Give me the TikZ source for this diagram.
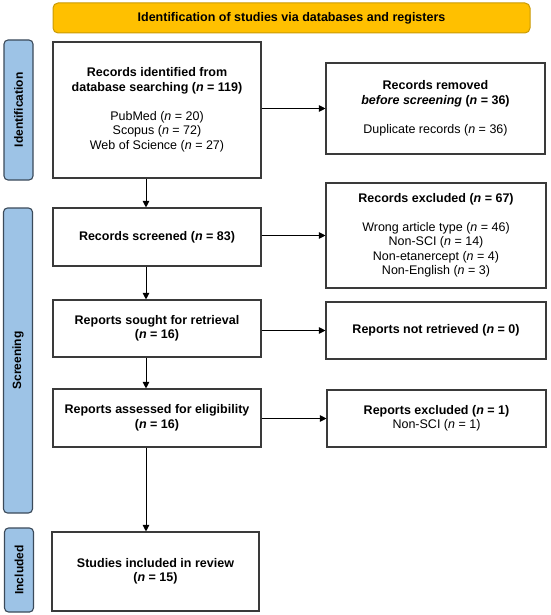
\documentclass[tikz,border=0pt]{standalone}
\usepackage{fontspec}
\setmainfont{Liberation Sans}
\usepackage{tikz}
\usetikzlibrary{arrows.meta, positioning, calc}

\definecolor{bannerfill}{HTML}{FFC000}
\definecolor{bannerline}{HTML}{C99A06}
\definecolor{sidefill}{HTML}{9DC3E6}
\definecolor{sideline}{HTML}{3B4A5A}
\definecolor{boxline}{HTML}{3A3A3A}

\begin{document}
\begin{tikzpicture}[x=1pt, y=-1pt, >={Triangle[length=6.5pt, width=6.5pt]},
        every node/.style={font=\fontsize{12.5}{14.5}\selectfont, align=center, inner sep=0pt},
        box/.style={draw=boxline, line width=1.1pt, fill=white},
        side/.style={draw=sideline, line width=1.1pt, fill=sidefill, rounded corners=4pt, rotate=90,
            minimum height=29pt, font=\fontsize{12}{14}\selectfont\bfseries},
        arr/.style={->, line width=0.9pt}]
        \useasboundingbox (0,0) rectangle (550,615);
        % Banner
        \node[draw=bannerline, fill=bannerfill, rounded corners=5pt, line width=1pt,
            minimum width=477pt, minimum height=30pt, font=\fontsize{12.5}{14.5}\selectfont\bfseries]
            (banner) at (291.5,18) {Identification of studies via databases and registers};
        % Side labels
        \node[side, minimum width=140pt] (sideid) at (18.5,110) {Identification};
        \node[side, minimum width=305pt] (sidescr) at (18,360.5) {Screening};
        \node[side, minimum width=84pt] (sideinc) at (19,570) {Included};
        % Left column
        \node[box, minimum width=208pt, minimum height=136pt] (ident) at (157,110)
            {\textbf{Records identified from}\\ \textbf{database searching (\textit{n} = 119)}\\[14.5pt]
             PubMed (\textit{n} = 20)\\ Scopus (\textit{n} = 72)\\ Web of Science (\textit{n} = 27)};
        \node[box, minimum width=208pt, minimum height=58pt] (screened) at (157,237)
            {\textbf{Records screened (\textit{n} = 83)}};
        \node[box, minimum width=208pt, minimum height=57pt] (sought) at (157,328.5)
            {\textbf{Reports sought for retrieval}\\ \textbf{(\textit{n} = 16)}};
        \node[box, minimum width=208pt, minimum height=58pt] (assessed) at (157,418)
            {\textbf{Reports assessed for eligibility}\\ \textbf{(\textit{n} = 16)}};
        \node[box, minimum width=207pt, minimum height=79pt] (studies) at (155.5,571.5)
            {\textbf{Studies included in review}\\ \textbf{(\textit{n} = 15)}};
        % Right column
        \node[box, minimum width=219pt, minimum height=91pt] (removed) at (435.5,108.5)
            {\textbf{Records removed}\\ \textbf{\textit{before screening} (\textit{n} = 36)}\\[14.5pt]
             Duplicate records (\textit{n} = 36)};
        \node[box, minimum width=220pt, minimum height=105pt] (excluded) at (436,235.5)
            {\textbf{Records excluded (\textit{n} = 67)}\\[14.5pt]
             Wrong article type (\textit{n} = 46)\\ Non-SCI (\textit{n} = 14)\\
             Non-etanercept (\textit{n} = 4)\\ Non-English (\textit{n} = 3)};
        \node[box, minimum width=220pt, minimum height=57pt] (notret) at (436,330.5)
            {\textbf{Reports not retrieved (\textit{n} = 0)}};
        \node[box, minimum width=219pt, minimum height=57pt] (repexcl) at (436.5,418.5)
            {\textbf{Reports excluded (\textit{n} = 1)}\\ Non-SCI (\textit{n} = 1)};
        % Arrows down
        \draw[arr] ([xshift=-11pt]ident.south) -- ([xshift=-11pt]screened.north);
        \draw[arr] ([xshift=-11pt]screened.south) -- ([xshift=-11pt]sought.north);
        \draw[arr] ([xshift=-11pt]sought.south) -- ([xshift=-11pt]assessed.north);
        \draw[arr] ([xshift=-11pt]assessed.south) -- ([xshift=-11pt]assessed.south |- studies.north);
        % Arrows across
        \draw[arr] (ident.east |- removed.west) -- (removed.west);
        \draw[arr] (screened.east |- excluded.west) -- (excluded.west);
        \draw[arr] (sought.east |- notret.west) -- (notret.west);
        \draw[arr] (assessed.east |- repexcl.west) -- (repexcl.west);
    \end{tikzpicture}
\end{document}
